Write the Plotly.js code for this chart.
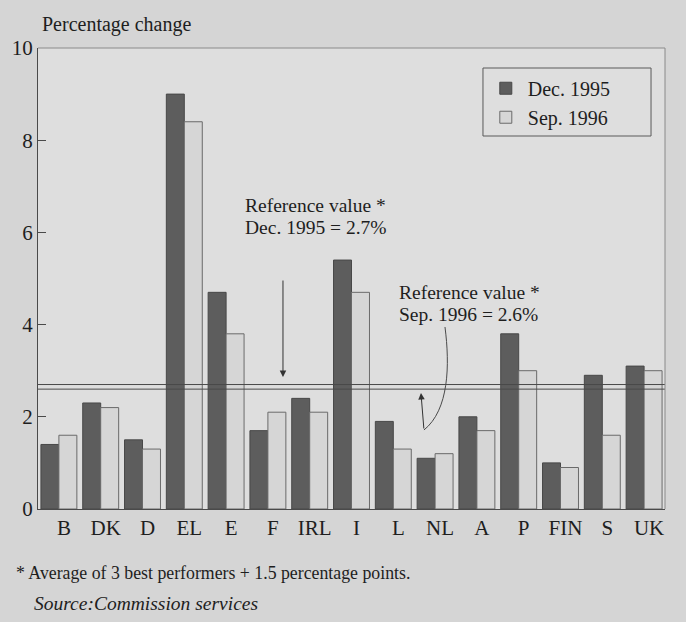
<!DOCTYPE html>
<html>
<head>
<meta charset="utf-8">
<script src="https://cdn.plot.ly/plotly-3.0.1.min.js"></script>
<style>
html,body{margin:0;padding:0;background:#d5d5d5;}
#chart{width:686px;height:622px;}
</style>
</head>
<body>
<div id="chart"></div>
<script>
const countries = ["B","DK","D","EL","E","F","IRL","I","L","NL","A","P","FIN","S","UK"];
const dec1995 = [1.4,2.3,1.5,9.0,4.7,1.7,2.4,5.4,1.9,1.1,2.0,3.8,1.0,2.9,3.1];
const sep1996 = [1.6,2.2,1.3,8.4,3.8,2.1,2.1,4.7,1.3,1.2,1.7,3.0,0.9,1.6,3.0];
const seriesNames = ["Dec. 1995","Sep. 1996"];
const referenceValues = [2.7, 2.6];
const yTicks = [0,2,4,6,8,10];

const serif = "Liberation Serif, Times New Roman, serif";
const textColor = "#1e1e1e";

const traces = [
  {type:"bar", name:seriesNames[0], x:countries, y:dec1995,
   marker:{color:"#5d5d5d", line:{color:"#484848", width:1}}},
  {type:"bar", name:seriesNames[1], x:countries, y:sep1996,
   marker:{color:"#d6d6d6", line:{color:"#6a6a6a", width:1}}}
];

const shapes = referenceValues.map(v => ({
  type:"line", xref:"paper", x0:0, x1:1, yref:"y", y0:v, y1:v,
  line:{color:"#4a4a4a", width:1}
}));
// lighter top and right frame
shapes.push({type:"line", xref:"paper", yref:"paper", x0:0, x1:1, y0:1, y1:1,
  line:{color:"#8a8a8a", width:1}});
shapes.push({type:"line", xref:"paper", yref:"paper", x0:1, x1:1, y0:0, y1:1,
  line:{color:"#8a8a8a", width:1}});
// legend frame
shapes.push({type:"rect", xref:"paper", yref:"paper", x0:0.7097, x1:0.9777,
  y0:0.8091, y1:0.9566, layer:"below", fillcolor:"#dedede",
  line:{color:"#5a5a5a", width:1}});
// curved connector for the Sep. 1996 note
shapes.push({
  type:"path", xref:"paper", yref:"paper",
  path:"M 0.6491 0.3948 C 0.6570 0.3124, 0.6555 0.2148, 0.6156 0.1714",
  line:{color:"#4a4a4a", width:1}
});

function txt(text, x, y, size, extra){
  return Object.assign({text:text, xref:"paper", yref:"paper", x:x, y:y,
    xanchor:"left", yanchor:"middle", showarrow:false, borderpad:0,
    font:{family:serif, size:size, color:textColor}}, extra||{});
}

const annotations = [
  txt("Percentage change", 0.004, 1.052, 20),
  txt("Reference value *", 0.3285, 0.659, 19.5),
  txt("Dec. 1995 = 2.7%", 0.3285, 0.611, 19.5),
  txt("Reference value *", 0.5742, 0.4704, 19.5),
  txt("Sep. 1996 = 2.6%", 0.5742, 0.4222, 19.5),
  txt("* Average of 3 best performers + 1.5 percentage points.", -0.0367, -0.1388, 17.8),
  txt("<i>Source:Commission services</i>", -0.008, -0.204, 19.5),
  {xref:"paper", yref:"paper", x:0.3907, y:0.2863, ax:0, ay:-98, text:"",
   showarrow:true, arrowhead:2, arrowsize:1.3, arrowwidth:1, arrowcolor:"#333"},
  {xref:"paper", yref:"paper", x:0.6108, y:0.2516, ax:3, ay:37, text:"",
   showarrow:true, arrowhead:2, arrowsize:1.3, arrowwidth:1, arrowcolor:"#333"}
];

const layout = {
  width:686, height:622,
  margin:{l:38, r:21, t:48, b:113},
  paper_bgcolor:"#d5d5d5",
  plot_bgcolor:"#dedede",
  barmode:"group", bargap:0.14, bargroupgap:0,
  font:{family:serif, size:20, color:textColor},
  showlegend:true,
  legend:{x:0.711, y:0.955, xanchor:"left", yanchor:"top",
    bgcolor:"rgba(0,0,0,0)", borderwidth:0,
    font:{family:serif, size:20, color:textColor}, itemwidth:34,
    tracegroupgap:0},
  xaxis:{type:"category", showgrid:false, zeroline:false,
    showline:true, linecolor:"#4a4a4a", linewidth:1, mirror:false,
    ticks:"", ticklabelshift:5,
    tickfont:{family:serif, size:21, color:textColor}},
  yaxis:{range:[0,10], tickvals:yTicks, ticktext:yTicks.map(String),
    showgrid:false, zeroline:false, showline:true, linecolor:"#4a4a4a",
    linewidth:1, mirror:false, ticks:"inside", ticklen:8, tickcolor:"#4a4a4a",
    tickfont:{family:serif, size:21, color:textColor}},
  shapes:shapes,
  annotations:annotations
};

Plotly.newPlot("chart", traces, layout, {displayModeBar:false, staticPlot:true});
</script>
</body>
</html>
